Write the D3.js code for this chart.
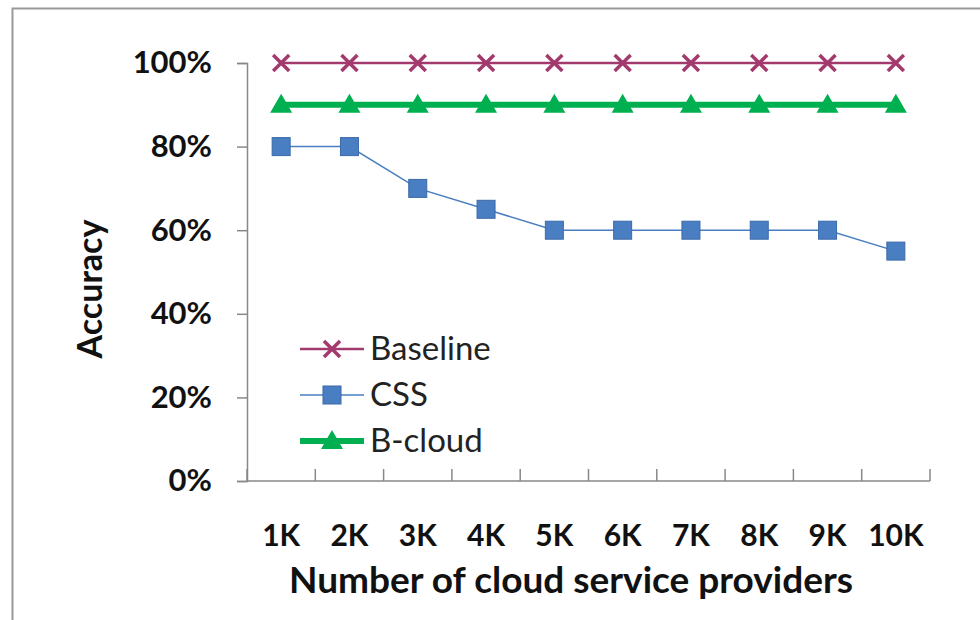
<!DOCTYPE html>
<html>
<head>
<meta charset="utf-8">
<script src="https://cdn.jsdelivr.net/npm/d3@7"></script>
<style>
  body { margin: 0; background: #fff; }
  svg { display: block; }
</style>
</head>
<body>
<script>
var categories = ['1K', '2K', '3K', '4K', '5K', '6K', '7K', '8K', '9K', '10K']
var baseline = [1.00, 1.00, 1.00, 1.00, 1.00, 1.00, 1.00, 1.00, 1.00, 1.00]
var css = [0.80, 0.80, 0.70, 0.65, 0.60, 0.60, 0.60, 0.60, 0.60, 0.55]
var bcloud = [0.90, 0.90, 0.90, 0.90, 0.90, 0.90, 0.90, 0.90, 0.90, 0.90]
var yTicks = [0, 0.2, 0.4, 0.6, 0.8, 1.0]

var width = 980, height = 620
var font = 'Lato, "Open Sans", sans-serif'

var svg = d3.select('body').append('svg')
  .attr('width', width)
  .attr('height', height)

// outer frame
svg.append('path')
  .attr('d', 'M12.5,' + height + 'V8.5H' + width)
  .attr('fill', 'none')
  .attr('stroke', '#999')
  .attr('stroke-width', 2)

var x = d3.scaleBand().domain(categories).range([247, 930])
var y = d3.scaleLinear().domain([0, 1]).range([481, 63])

// y axis
var yAxis = d3.axisLeft(y).tickValues(yTicks).tickSize(10).tickFormat(d3.format('.0%'))
var gy = svg.append('g').attr('transform', 'translate(247,0)').call(yAxis)
gy.select('.domain').attr('stroke', '#888').attr('stroke-width', 1.5)
gy.selectAll('.tick line').attr('stroke', '#888').attr('stroke-width', 1.5)
gy.selectAll('.tick text')
  .attr('x', -35)
  .attr('font-family', font).attr('font-weight', 'bold').attr('font-size', 31)
  .attr('fill', '#111')

// x axis: ticks between categories, pointing up
var gx = svg.append('g').attr('transform', 'translate(0,481)')
gx.append('line').attr('x1', 247).attr('x2', 930).attr('stroke', '#888').attr('stroke-width', 1.5)
var bounds = categories.map(function(c) { return x(c) }).concat([930])
gx.selectAll('line.tk').data(bounds).enter().append('line')
  .attr('class', 'tk')
  .attr('x1', function(d) { return d }).attr('x2', function(d) { return d })
  .attr('y1', 0).attr('y2', -12)
  .attr('stroke', '#888').attr('stroke-width', 1.5)
gx.selectAll('text').data(categories).enter().append('text')
  .attr('x', function(d) { return x(d) + x.bandwidth() / 2 })
  .attr('y', 65)
  .attr('text-anchor', 'middle')
  .attr('font-family', font).attr('font-weight', 'bold').attr('font-size', 30)
  .attr('fill', '#111')
  .text(function(d) { return d })

// axis titles
svg.append('text')
  .attr('x', 571).attr('y', 593)
  .attr('text-anchor', 'middle')
  .attr('font-family', font).attr('font-weight', 'bold').attr('font-size', 37)
  .attr('fill', '#111')
  .text('Number of cloud service providers')

svg.append('text')
  .attr('transform', 'translate(102,289) rotate(-90)')
  .attr('text-anchor', 'middle')
  .attr('font-family', font).attr('font-weight', 'bold').attr('font-size', 34)
  .attr('fill', '#111')
  .text('Accuracy')

var cx = function(d, i) { return x(categories[i]) + x.bandwidth() / 2 }
var line = d3.line().x(cx).y(function(d) { return y(d) })

var series = [
  { name: 'Baseline', values: baseline, color: '#A23A6E', width: 2.5, marker: 'x' },
  { name: 'CSS', values: css, color: '#4A7EC2', width: 1.5, marker: 'square' },
  { name: 'B-cloud', values: bcloud, color: '#00B050', width: 6, marker: 'triangle' }
]

function drawMarker(g, type, color) {
  if (type === 'x') {
    g.append('path').attr('d', 'M-8,-8L8,8M-8,8L8,-8')
      .attr('stroke', color).attr('stroke-width', 3.5).attr('fill', 'none')
  } else if (type === 'square') {
    g.append('rect').attr('x', -9).attr('y', -9).attr('width', 18).attr('height', 18)
      .attr('fill', color).attr('stroke', '#3A6AA8').attr('stroke-width', 1)
  } else {
    g.append('path').attr('d', 'M0,-11L11,8L-11,8Z').attr('fill', color)
  }
}

series.forEach(function(s) {
  svg.append('path')
    .attr('d', line(s.values))
    .attr('fill', 'none')
    .attr('stroke', s.color)
    .attr('stroke-width', s.width)
  s.values.forEach(function(v, i) {
    var g = svg.append('g').attr('transform', 'translate(' + cx(v, i) + ',' + y(v) + ')')
    drawMarker(g, s.marker, s.color)
  })
})

// legend
var legend = svg.append('g')
series.forEach(function(s, i) {
  var ly = 349 + i * 46
  legend.append('line')
    .attr('x1', 300).attr('x2', 364).attr('y1', ly).attr('y2', ly)
    .attr('stroke', s.color).attr('stroke-width', s.width)
  var g = legend.append('g').attr('transform', 'translate(332,' + ly + ')')
  drawMarker(g, s.marker, s.color)
  legend.append('text')
    .attr('x', 370).attr('y', ly + 11)
    .attr('font-family', font).attr('font-size', 33)
    .attr('fill', '#222')
    .text(s.name)
})
</script>
</body>
</html>
